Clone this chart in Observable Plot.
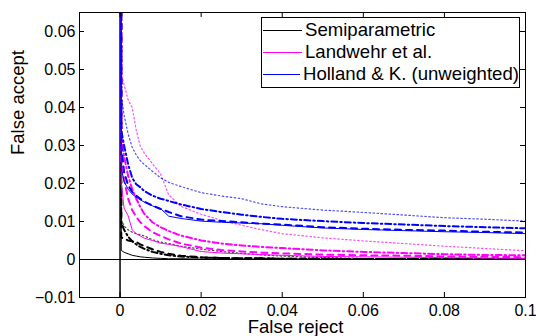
<!DOCTYPE html>
<html><head><meta charset="utf-8">
<script src="https://cdn.jsdelivr.net/npm/d3@7"></script>
<script src="https://cdn.jsdelivr.net/npm/@observablehq/plot@0.6"></script>
<style>
body{margin:0;background:#fff;font-family:"Liberation Sans",Arial,sans-serif}
#wrap{position:relative;width:536px;height:336px;overflow:hidden}
#legend{position:absolute;left:261px;top:17px;width:259px;height:71px;border:1.5px solid #000;background:#fff;box-sizing:border-box;padding-top:1px}
.row{display:flex;align-items:center;height:22px;font-size:18.6px;white-space:nowrap;color:#000}
.sw{width:39px;height:0;margin-left:1px;margin-right:3px}
</style></head>
<body><div id="wrap"><div id="chart"></div><div id="legend"></div></div>
<script>
// False reject grid shared by all curves
const falseReject = [0, 0.0003, 0.001, 0.002, 0.003, 0.004, 0.005, 0.006, 0.008, 0.01, 0.012, 0.015, 0.02, 0.025, 0.03, 0.035, 0.04, 0.05, 0.06, 0.07, 0.08, 0.09, 0.1];

// Semiparametric (black)
const semiSolid   = [1, 0.0024, 0.0019, 0.0015, 0.0011, 0.0009, 0.0007, 0.0006, 0.0004, 0.0003, 0.0002, 0.0002, 0.0001, 0.0001, 0.0001, 0.0001, 0.0001, 0.00005, 0.00005, 0.00005, 0.00005, 0.00005, 0.00005];
const semiDashed  = [1, 0.0058, 0.0055, 0.005, 0.0048, 0.0046, 0.004, 0.0035, 0.0027, 0.002, 0.0015, 0.001, 0.0006, 0.0004, 0.0003, 0.0003, 0.0002, 0.0002, 0.0001, 0.0001, 0.0001, 0.0001, 0.0001];
const semiDashDot = [1, 0.0098, 0.0078, 0.006, 0.0048, 0.004, 0.0033, 0.0028, 0.002, 0.0015, 0.0011, 0.0008, 0.0005, 0.0004, 0.0003, 0.0003, 0.0002, 0.0002, 0.0001, 0.0001, 0.0001, 0.0001, 0.0001];
const semiDotted  = [1, 0.0105, 0.0088, 0.0078, 0.0072, 0.0068, 0.0065, 0.0062, 0.0052, 0.0046, 0.0042, 0.0035, 0.0027, 0.0021, 0.0016, 0.0012, 0.0009, 0.0005, 0.0003, 0.0002, 0.0001, 0.0001, 0.0001];

// Landwehr et al. (magenta)
const landSolid   = [1, 0.02, 0.0135, 0.0115, 0.0078, 0.0068, 0.0062, 0.0056, 0.005, 0.0043, 0.004, 0.0034, 0.0021, 0.0017, 0.0015, 0.0013, 0.0011, 0.0008, 0.0007, 0.0006, 0.0005, 0.0004, 0.0003];
const landDashed  = [1, 0.026, 0.021, 0.016, 0.013, 0.0112, 0.0098, 0.0088, 0.0072, 0.0062, 0.0053, 0.0042, 0.0031, 0.0025, 0.0021, 0.0018, 0.0016, 0.0013, 0.0011, 0.001, 0.0008, 0.0007, 0.0006];
const landDashDot = [1, 0.033, 0.027, 0.022, 0.0185, 0.016, 0.0138, 0.012, 0.0098, 0.0085, 0.0075, 0.0063, 0.005, 0.0042, 0.0037, 0.0033, 0.003, 0.0024, 0.002, 0.0017, 0.0014, 0.0012, 0.0011];
const landDotted  = [1, 0.049, 0.046, 0.042, 0.04, 0.034, 0.0298, 0.028, 0.0252, 0.0225, 0.017, 0.014, 0.0119, 0.0103, 0.009, 0.0078, 0.0068, 0.0057, 0.0049, 0.0042, 0.0035, 0.0029, 0.0023];

// Holland & K. unweighted (blue)
const holSolid    = [1, 0.024, 0.0205, 0.0185, 0.0172, 0.0164, 0.0157, 0.0151, 0.0141, 0.0134, 0.0114, 0.0108, 0.0101, 0.0098, 0.0096, 0.0094, 0.009, 0.0083, 0.0079, 0.0076, 0.0073, 0.0071, 0.0068];
const holDashed   = [1, 0.03, 0.023, 0.0195, 0.0178, 0.0168, 0.016, 0.0152, 0.0142, 0.0133, 0.0125, 0.0114, 0.0105, 0.0101, 0.0098, 0.0094, 0.0092, 0.0085, 0.0081, 0.0078, 0.0076, 0.0073, 0.0071];
const holDashDot  = [1, 0.034, 0.03, 0.025, 0.0215, 0.0198, 0.019, 0.018, 0.0168, 0.016, 0.0154, 0.0145, 0.0133, 0.0125, 0.0118, 0.0112, 0.0107, 0.0101, 0.0096, 0.0092, 0.0088, 0.0085, 0.0082];
const holDotted   = [1, 0.043, 0.038, 0.033, 0.0295, 0.0275, 0.026, 0.025, 0.0232, 0.0215, 0.0203, 0.0192, 0.0176, 0.0167, 0.016, 0.0146, 0.0139, 0.013, 0.0124, 0.0117, 0.011, 0.0106, 0.0101];

const xTicks = [0, 0.02, 0.04, 0.06, 0.08, 0.1];
const yTicks = [-0.01, 0, 0.01, 0.02, 0.03, 0.04, 0.05, 0.06];
const legendNames = ["Semiparametric", "Landwehr et al.", "Holland & K. (unweighted)"];
const legendColors = ["#000000", "#ff00ff", "#0000ff"];

const styles = {
  solid:   {strokeWidth: 1, strokeDasharray: null, strokeOpacity: 1},
  dashed:  {strokeWidth: 2, strokeDasharray: "6,5", strokeOpacity: 1},
  dashdot: {strokeWidth: 2, strokeDasharray: "6,3,1.5,3", strokeOpacity: 1},
  dotted:  {strokeWidth: 1.2, strokeDasharray: "1.5,2.5", strokeOpacity: 0.7}
};

const series = [
  [semiDotted, 0, "dotted"], [semiDashDot, 0, "dashdot"], [semiDashed, 0, "dashed"], [semiSolid, 0, "solid"],
  [landDotted, 1, "dotted"], [landDashDot, 1, "dashdot"], [landDashed, 1, "dashed"], [landSolid, 1, "solid"],
  [holDotted, 2, "dotted"], [holDashDot, 2, "dashdot"], [holDashed, 2, "dashed"], [holSolid, 2, "solid"]
];

const lineMarks = series.map(([ys, c, st]) =>
  Plot.line(falseReject.map((x, i) => ({x, y: ys[i]})), {
    x: "x", y: "y", stroke: legendColors[c], clip: true,
    ...styles[st]
  })
);

const fmt = d => String(+d.toFixed(4)).replace("-", "\u2212");

const W = 536, H = 336, mL = 79, mR = 11, mT = 12, mB = 39;
const pw = W - mL - mR, ph = H - mT - mB, tk = 5;

const chart = Plot.plot({
  width: W, height: H,
  marginLeft: mL, marginRight: mR, marginTop: mT, marginBottom: mB,
  x: {domain: [-0.01, 0.1]},
  y: {domain: [-0.01, 0.065]},
  style: {fontFamily: "'Liberation Sans', Arial, sans-serif", background: "white", color: "black", overflow: "visible"},
  marks: [
    Plot.ruleX([0], {stroke: "black", strokeWidth: 1.5}),
    Plot.ruleY([0], {stroke: "black", strokeWidth: 1}),
    ...lineMarks,
    Plot.frame({stroke: "black", strokeWidth: 1}),
    Plot.ruleX(xTicks, {x: d => d, insetTop: ph - tk, stroke: "black"}),
    Plot.ruleX(xTicks, {x: d => d, insetBottom: ph - tk, stroke: "black"}),
    Plot.ruleY(yTicks, {y: d => d, insetRight: pw - tk, stroke: "black"}),
    Plot.ruleY(yTicks, {y: d => d, insetLeft: pw - tk, stroke: "black"}),
    Plot.axisX(xTicks, {tickSize: 0, tickPadding: 7, label: null, fontSize: 16, tickFormat: fmt}),
    Plot.axisY(yTicks, {tickSize: 0, tickPadding: 4, label: null, fontSize: 16, tickFormat: fmt}),
    Plot.text(["False reject"], {frameAnchor: "bottom", dy: 35, dx: -7, fontSize: 18.5}),
    Plot.text(["False accept"], {frameAnchor: "left", dx: -61, rotate: -90, fontSize: 18.5})
  ]
});
document.getElementById("chart").appendChild(chart);

const leg = document.getElementById("legend");
legendNames.forEach((n, i) => {
  const r = document.createElement("div"); r.className = "row";
  const s = document.createElement("div"); s.className = "sw";
  s.style.borderTop = "1px solid " + legendColors[i];
  const t = document.createElement("span"); t.textContent = n;
  r.appendChild(s); r.appendChild(t); leg.appendChild(r);
});
</script></body></html>
